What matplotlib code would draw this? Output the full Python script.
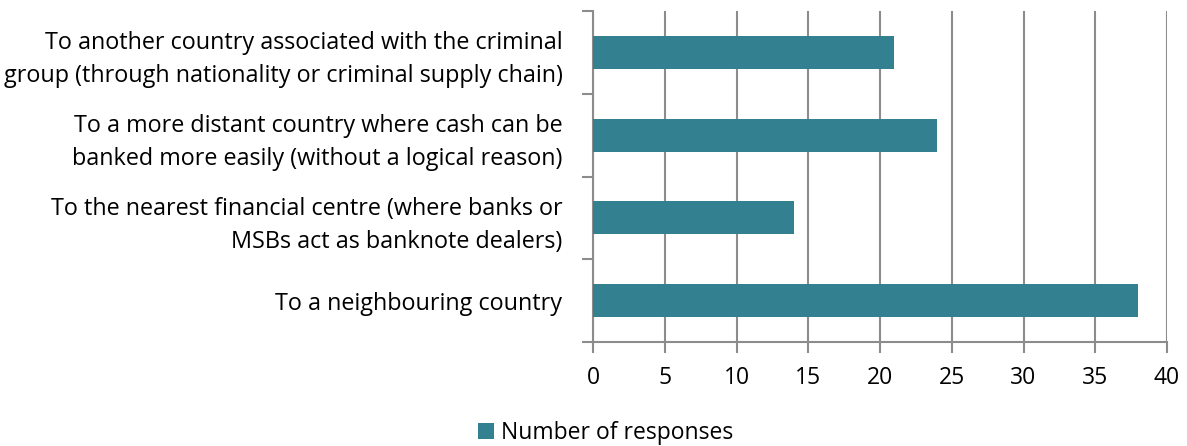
import matplotlib.pyplot as plt
import numpy as np

plt.rcParams['font.family'] = ['Open Sans', 'DejaVu Sans']

categories = [
    'To a neighbouring country',
    'To the nearest financial centre (where banks or\nMSBs act as banknote dealers)',
    'To a more distant country where cash can be\nbanked more easily (without a logical reason)',
    'To another country associated with the criminal\ngroup (through nationality or criminal supply chain)',
]
responses = [38, 14, 24, 21]
x_ticks = [0, 5, 10, 15, 20, 25, 30, 35, 40]

bar_color = '#338091'
grid_color = '#8c8c8c'

fig = plt.figure(figsize=(11.87, 4.46), dpi=100)
ax = fig.add_axes([0.4996, 0.2332, 0.9832 - 0.4996, 0.9753 - 0.2332])

y = np.arange(len(categories))
ax.barh(y, responses, height=0.4, color=bar_color, zorder=3, label='Number of responses')

ax.set_xlim(0, 40)
ax.set_ylim(-0.5, len(categories) - 0.5)
ax.set_xticks(x_ticks)
ax.set_xticklabels([str(t) for t in x_ticks], fontsize=16.5)
ax.set_yticks(y)
ax.set_yticklabels(categories, fontsize=16.8, linespacing=1.5)
ax.set_yticks(np.arange(-0.5, len(categories), 1), minor=True)

ax.tick_params(axis='y', which='major', length=0, pad=22)
ax.tick_params(axis='y', which='minor', length=8, color=grid_color, width=1.5)
ax.tick_params(axis='x', length=8, color=grid_color, width=1.5, pad=9)

ax.xaxis.grid(True, color=grid_color, linewidth=1.5, zorder=0)
ax.set_axisbelow(True)

for s in ['top', 'right']:
    ax.spines[s].set_visible(False)
for s in ['left', 'bottom']:
    ax.spines[s].set_color(grid_color)
    ax.spines[s].set_linewidth(1.5)

fig.legend(loc='center', bbox_to_anchor=(0.51, 0.029), frameon=False, fontsize=16.5,
           handlelength=0.7, handleheight=0.7, handletextpad=0.3)

fig.savefig('out.png', dpi=100)
